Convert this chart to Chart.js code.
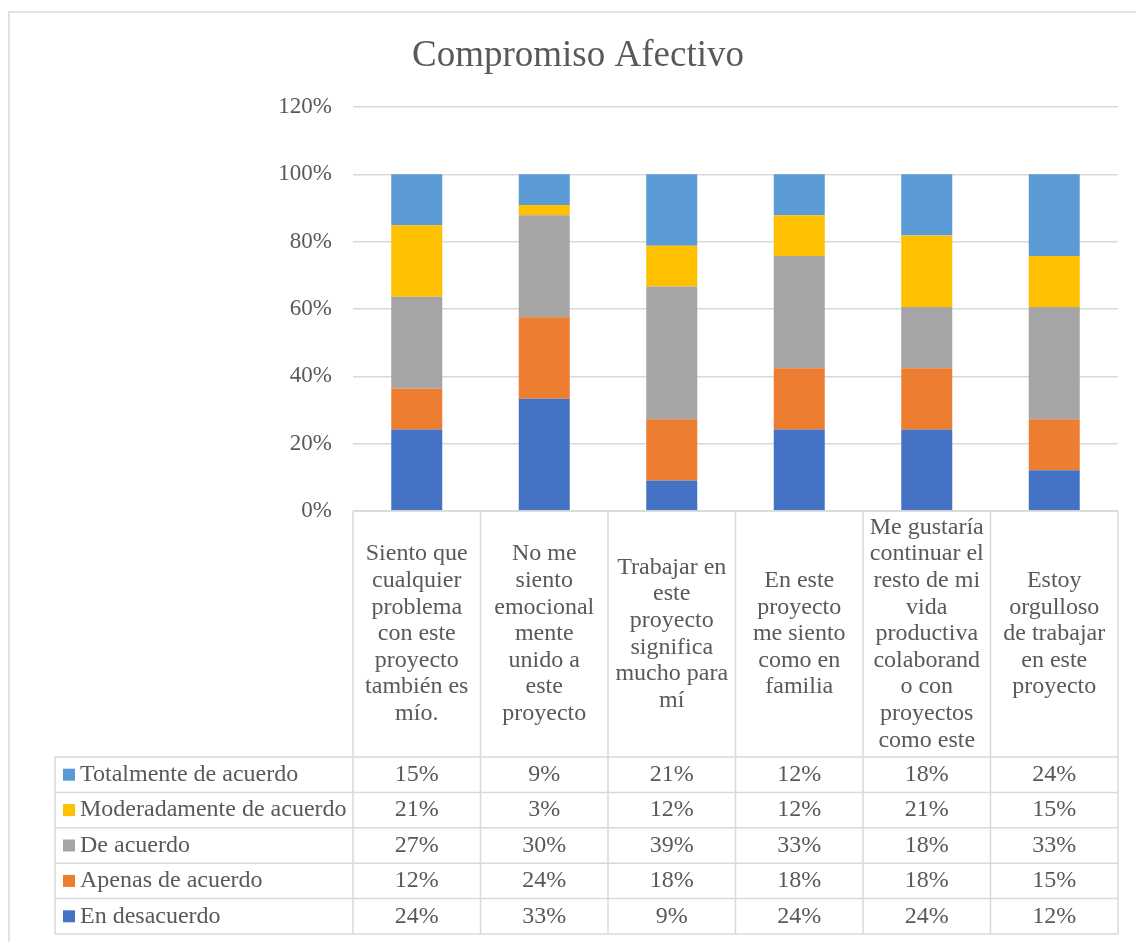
<!DOCTYPE html>
<html lang="es">
<head>
<meta charset="UTF-8">
<title>Compromiso Afectivo</title>
<script src="https://cdn.jsdelivr.net/npm/chart.js"></script>
<style>
    body, html { margin: 0; padding: 0; background: #fff; }
    #wrap { width: 1136px; height: 942px; }
</style>
</head>
<body>
<div id="wrap"><canvas id="chart" width="1136" height="942"></canvas></div>
<script>
    // categorías (ya partidas en líneas como en la tabla de datos)
    var categories = [
        ['Siento que', 'cualquier', 'problema', 'con este', 'proyecto', 'también es', 'mío.'],
        ['No me', 'siento', 'emocional', 'mente', 'unido a', 'este', 'proyecto'],
        ['Trabajar en', 'este', 'proyecto', 'significa', 'mucho para', 'mí'],
        ['En este', 'proyecto', 'me siento', 'como en', 'familia'],
        ['Me gustaría', 'continuar el', 'resto de mi', 'vida', 'productiva', 'colaborand', 'o con', 'proyectos', 'como este'],
        ['Estoy', 'orgulloso', 'de trabajar', 'en este', 'proyecto']
    ];

    var seriesNames = ['En desacuerdo', 'Apenas de acuerdo', 'De acuerdo', 'Moderadamente de acuerdo', 'Totalmente de acuerdo'];
    var enDesacuerdo  = [24.24, 33.33, 9.09, 24.24, 24.24, 12.12];
    var apenas        = [12.12, 24.24, 18.18, 18.18, 18.18, 15.15];
    var deAcuerdo     = [27.27, 30.30, 39.39, 33.33, 18.18, 33.33];
    var moderadamente = [21.21, 3.03, 12.12, 12.12, 21.21, 15.15];
    var totalmente    = [15.15, 9.09, 21.21, 12.12, 18.18, 24.24];
    var yTicks = [0, 20, 40, 60, 80, 100, 120];

    var colors = ['#4472C4', '#ED7D31', '#A5A5A5', '#FFC000', '#5B9BD5'];
    var textColor = '#595959';
    var lineColor = '#D9D9D9';
    var fontFam = "'Liberation Serif', 'Times New Roman', serif";

    var allSeries = [enDesacuerdo, apenas, deAcuerdo, moderadamente, totalmente];
    var datasets = allSeries.map(function (d, i) {
        return {
            label: seriesNames[i],
            data: d,
            backgroundColor: colors[i],
            borderWidth: 0,
            barPercentage: 0.4,
            categoryPercentage: 1
        };
    });

    // marco, título y tabla de datos
    var extras = {
        id: 'extras',
        beforeDraw: function (chart) {
            var ctx = chart.ctx;
            ctx.save();
            ctx.strokeStyle = lineColor;
            ctx.lineWidth = 1.5;
            ctx.beginPath();
            ctx.moveTo(9, 1000);
            ctx.lineTo(9, 12);
            ctx.lineTo(1200, 12);
            ctx.stroke();
            ctx.restore();
        },
        afterDraw: function (chart) {
            var ctx = chart.ctx;
            var area = chart.chartArea;
            var xs = chart.scales.x;
            var n = categories.length;
            var cw = (area.right - area.left) / n;
            var headTop = area.bottom;
            var headBottom = 757;
            var rowH = 35.4;
            var legLeft = 55;
            var tableBottom = headBottom + rowH * 5;

            ctx.save();
            // título
            ctx.fillStyle = textColor;
            ctx.font = '37px ' + fontFam;
            ctx.textAlign = 'center';
            ctx.textBaseline = 'middle';
            ctx.fillText('Compromiso Afectivo', 578, 56);

            // líneas
            ctx.strokeStyle = lineColor;
            ctx.lineWidth = 1.5;
            ctx.beginPath();
            ctx.moveTo(area.left, headTop);
            ctx.lineTo(area.right, headTop);
            for (var i = 0; i <= n; i++) {
                var x = area.left + i * cw;
                ctx.moveTo(x, headTop);
                ctx.lineTo(x, tableBottom);
            }
            ctx.moveTo(legLeft, headBottom);
            ctx.lineTo(legLeft, tableBottom);
            for (var r = 0; r <= 5; r++) {
                var y = headBottom + r * rowH;
                ctx.moveTo(legLeft, y);
                ctx.lineTo(area.right, y);
            }
            ctx.stroke();

            // encabezados de categoría
            ctx.fillStyle = textColor;
            ctx.font = '24px ' + fontFam;
            var lh = 26.6;
            var midY = (headTop + headBottom) / 2;
            categories.forEach(function (lines, i) {
                var cx = xs.getPixelForValue(i);
                var y0 = midY - (lines.length - 1) * lh / 2;
                lines.forEach(function (t, k) {
                    ctx.fillText(t, cx, y0 + k * lh);
                });
            });

            // filas (de arriba a abajo: la última serie primero)
            for (var r2 = 0; r2 < 5; r2++) {
                var s = 4 - r2;
                var cy = headBottom + r2 * rowH + rowH / 2;
                ctx.fillStyle = colors[s];
                ctx.fillRect(63, cy - 6, 12, 12);
                ctx.fillStyle = textColor;
                ctx.textAlign = 'left';
                ctx.fillText(seriesNames[s], 80, cy);
                ctx.textAlign = 'center';
                allSeries[s].forEach(function (v, i) {
                    ctx.fillText(Math.round(v) + '%', xs.getPixelForValue(i), cy);
                });
            }
            ctx.restore();
        }
    };

    new Chart(document.getElementById('chart'), {
        type: 'bar',
        data: { labels: categories, datasets: datasets },
        options: {
            responsive: false,
            animation: false,
            devicePixelRatio: 1,
            layout: { padding: { left: 0, top: 107, right: 18, bottom: 431 } },
            plugins: { legend: { display: false }, tooltip: { enabled: false }, title: { display: false } },
            scales: {
                x: { stacked: true, display: false },
                y: {
                    stacked: true,
                    min: 0,
                    max: 120,
                    afterBuildTicks: function (scale) {
                        scale.ticks = yTicks.map(function (v) { return { value: v }; });
                    },
                    afterFit: function (scale) { scale.width = 353; },
                    border: { display: false },
                    grid: { color: lineColor, lineWidth: 1.5, drawTicks: false },
                    ticks: {
                        padding: 21,
                        color: textColor,
                        font: { family: fontFam, size: 23 },
                        callback: function (v) { return v + '%'; }
                    }
                }
            }
        },
        plugins: [extras]
    });
</script>
</body>
</html>
